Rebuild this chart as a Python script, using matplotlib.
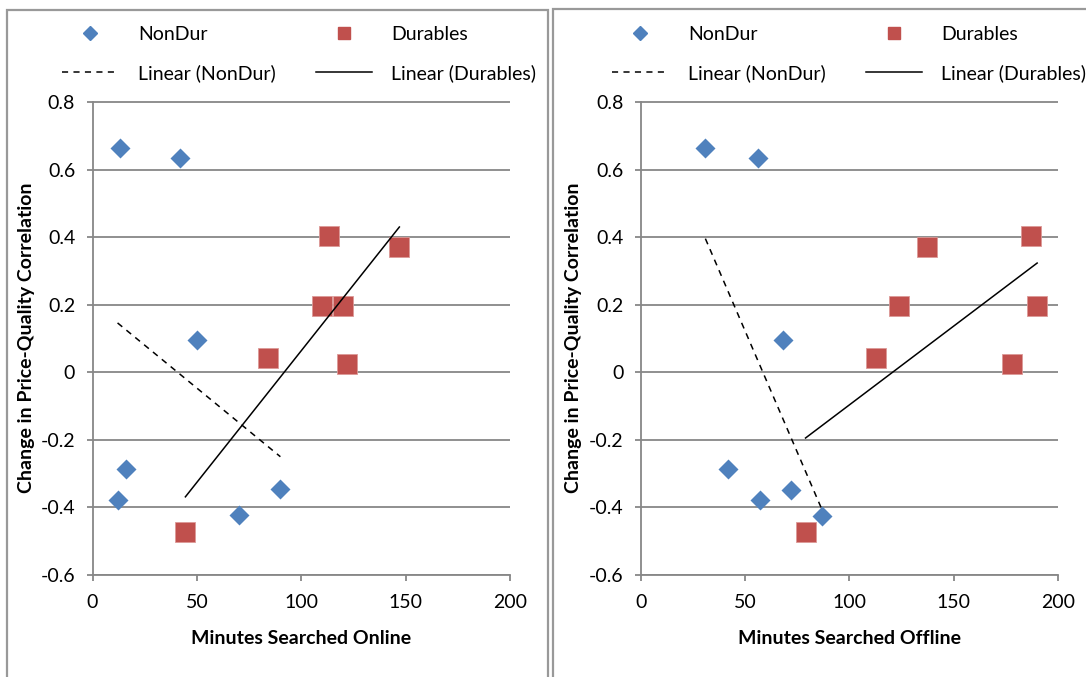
import numpy as np
import matplotlib.pyplot as plt
from matplotlib.lines import Line2D
from matplotlib.patches import Rectangle

plt.rcParams['font.family'] = ['Lato', 'DejaVu Sans']

# change in price-quality correlation, one value per category
change_nondur = [0.664, 0.635, 0.095, -0.287, -0.378, -0.425, -0.348]
change_dur = [0.403, 0.371, 0.197, 0.197, 0.041, 0.025, -0.473]

# minutes searched, same order as above
online_nondur = [13, 42, 50, 16, 12, 70, 90]
online_dur = [113.5, 147, 110, 120, 84, 122, 44.5]
offline_nondur = [31, 56, 68, 42, 57, 87, 72]
offline_dur = [187, 137, 124, 190, 113, 178, 79]

yticks = [-0.6, -0.4, -0.2, 0, 0.2, 0.4, 0.6, 0.8]
ytick_labels = ['-0.6', '-0.4', '-0.2', '0', '0.2', '0.4', '0.6', '0.8']
xticks = [0, 50, 100, 150, 200]

blue = '#4f81bd'
red = '#c0504d'
grey = '#878787'
fs = 14

W, H = 1086, 677
fig = plt.figure(figsize=(W / 100, H / 100), dpi=100)

# the two chart frames
fig.patches.append(Rectangle((7 / W, -0.05), 541 / W, 1.05 - 10 / H, transform=fig.transFigure,
                             fill=False, ec='#999999', lw=1.6))
fig.patches.append(Rectangle((553 / W, -0.05), 0.6, 1.05 - 9 / H, transform=fig.transFigure,
                             fill=False, ec='#999999', lw=1.6))


def trend(ax, x, y, **kw):
    p = np.polyfit(x, y, 1)
    xs = np.array([min(x), max(x)])
    return ax.plot(xs, np.polyval(p, xs), color='black', lw=1.1, zorder=4, **kw)[0]


def panel(rect, x_nd, x_d, xlabel, ylab_x, leg_x):
    ax = fig.add_axes(rect)
    ax.set_xlim(0, 200)
    ax.set_ylim(-0.6, 0.803)
    ax.set_xticks(xticks)
    ax.set_yticks(yticks)
    ax.set_yticklabels(ytick_labels)
    ax.grid(axis='y', color=grey, lw=1.3)
    ax.set_axisbelow(True)
    for s in ['top', 'right']:
        ax.spines[s].set_visible(False)
    for s in ['left', 'bottom']:
        ax.spines[s].set_color(grey)
        ax.spines[s].set_linewidth(1.3)
    ax.spines['left'].set_bounds(-0.6, 0.8)
    ax.tick_params(axis='both', direction='out', length=4.5, width=1.3, color=grey,
                   labelsize=fs, labelcolor='black')
    ax.tick_params(axis='y', pad=8)
    ax.tick_params(axis='x', pad=9.5)

    ax.plot(x_nd, change_nondur, 'D', ms=10, color=blue, mec='none', zorder=3)
    ax.plot(x_d, change_dur, 's', ms=14, color=red, mec='#dc9997', mew=0.6, zorder=3)
    l_nd = trend(ax, x_nd, change_nondur, ls=(0, (4, 3.5)))
    l_d = trend(ax, x_d, change_dur)

    ax.set_xlabel(xlabel, fontsize=fs, fontweight='bold', labelpad=13.5)
    fig.text(ylab_x / W, 1 - 338 / H, 'Change in Price-Quality Correlation', rotation=90,
             ha='center', va='center', fontsize=fs, fontweight='bold')

    h_nd = Line2D([], [], marker='D', ms=7.5, color=blue, ls='none')
    h_d = Line2D([], [], marker='s', ms=9, color=red, ls='none')
    ax.legend([h_nd, l_nd, h_d, l_d],
              ['NonDur', 'Linear (NonDur)', 'Durables', 'Linear (Durables)'],
              ncol=2, loc='upper left', bbox_to_anchor=(leg_x / W, 1 - 26 / H),
              bbox_transform=fig.transFigure, frameon=False, fontsize=fs,
              handlelength=2.9, handletextpad=1.0, columnspacing=2.06,
              labelspacing=1.1, borderpad=0, borderaxespad=0)
    return ax


panel([92.5 / W, 102.5 / H, 417.5 / W, 473.5 / H], online_nondur, online_dur,
      'Minutes Searched Online', 27, 62)
panel([640.7 / W, 102 / H, 417.3 / W, 474 / H], offline_nondur, offline_dur,
      'Minutes Searched Offline', 574, 612)

fig.savefig('out.png', dpi=100)
